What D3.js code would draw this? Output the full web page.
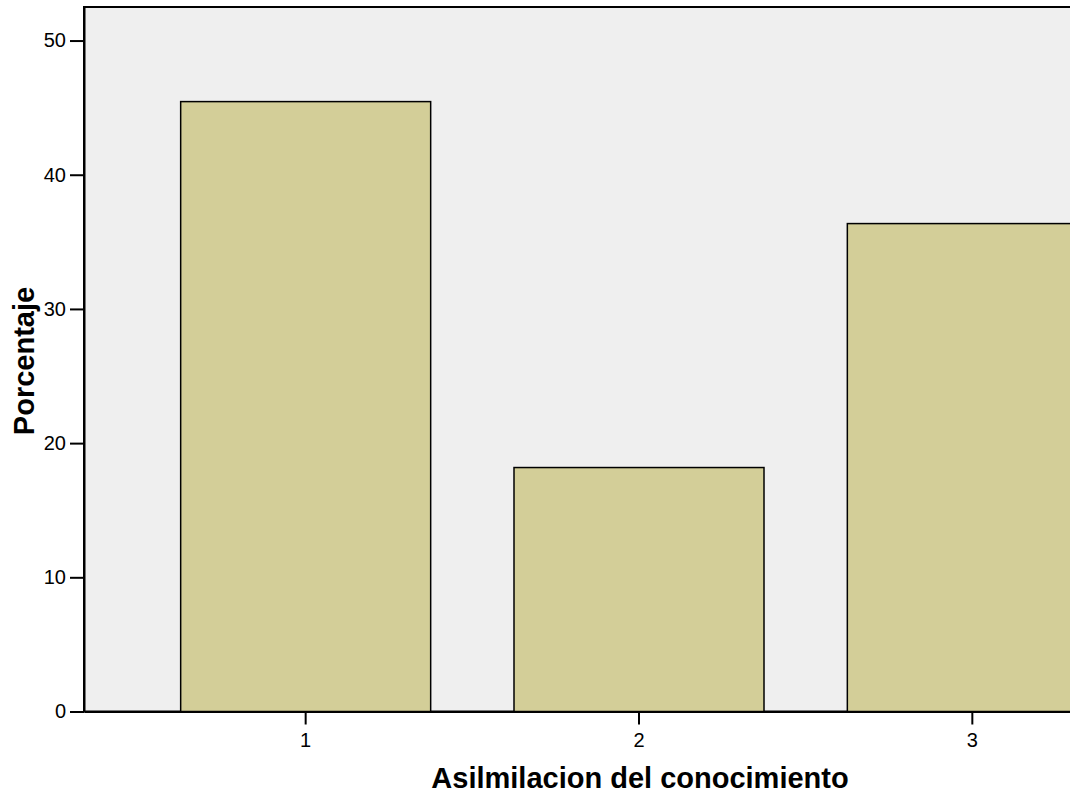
<!DOCTYPE html>
<html><head><meta charset="utf-8">
<script src="https://cdn.jsdelivr.net/npm/d3@7"></script>
<style>html,body{margin:0;padding:0;background:#fff;overflow:hidden}</style>
</head><body>
<svg id="c" width="1070" height="793"></svg>
<script>
const categories = ["1", "2", "3"];
const values = [45.45, 18.18, 36.36];
const yTicks = [0, 10, 20, 30, 40, 50];
const xTitle = "Asilmilacion del conocimiento";
const yTitle = "Porcentaje";

const svg = d3.select("#c");
const pL = 84, pR = 1194, pT = 7, pB = 711.5;
const x = d3.scaleBand().domain(categories).range([pL, pR]).paddingInner(0.25).paddingOuter(0.29);
const y = d3.scaleLinear().domain([0, 52.5]).range([pB, pT]);

svg.append("rect").attr("x", pL).attr("y", pT).attr("width", pR - pL).attr("height", pB - pT)
  .attr("fill", "#efefef").attr("stroke", "#000").attr("stroke-width", 2);

svg.selectAll("rect.bar").data(values).enter().append("rect").attr("class", "bar")
  .attr("x", (d, i) => x(categories[i])).attr("width", x.bandwidth())
  .attr("y", d => y(d)).attr("height", d => pB - y(d))
  .attr("fill", "#d3ce98").attr("stroke", "#000").attr("stroke-width", 1.5);

const font = "'Liberation Sans', Arial, sans-serif";
const ya = svg.append("g").attr("transform", `translate(${pL},0)`)
  .call(d3.axisLeft(y).tickValues(yTicks).tickSize(14).tickSizeOuter(0).tickPadding(4));
const xa = svg.append("g").attr("transform", `translate(0,${pB})`)
  .call(d3.axisBottom(x).tickSize(13).tickSizeOuter(0).tickPadding(8));
[ya, xa].forEach(a => {
  a.attr("font-size", null).attr("font-family", null);
  a.select(".domain").attr("stroke", "#000").attr("stroke-width", 2);
  a.selectAll(".tick line").attr("stroke", "#000").attr("stroke-width", 2);
  a.selectAll("text").style("font-family", font).style("font-size", "20px").attr("fill", "#000");
});

svg.append("text").attr("x", 640).attr("y", 788).attr("text-anchor", "middle")
  .style("font-family", font).style("font-weight", "bold").style("font-size", "29px").text(xTitle);
svg.append("text").attr("transform", "translate(34,361) rotate(-90)").attr("text-anchor", "middle")
  .style("font-family", font).style("font-weight", "bold").style("font-size", "29px").text(yTitle);
</script>
</body></html>
